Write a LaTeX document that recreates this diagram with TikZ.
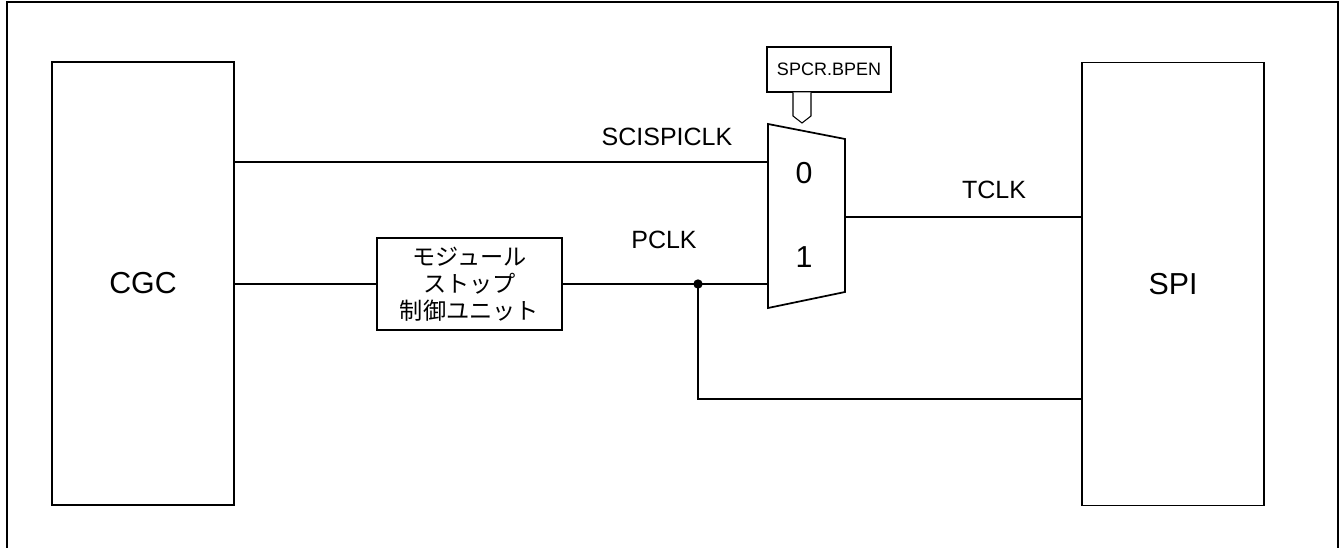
\documentclass[tikz,border=0pt]{standalone}
\usepackage{fontspec}
\setmainfont{Liberation Sans}
\newfontfamily\jpfont{Noto Sans CJK JP}
\begin{document}
\begin{tikzpicture}[x=0.75pt,y=-0.75pt,
  blk/.style={draw,line width=1.3pt,inner sep=0pt},
  wire/.style={line width=0.9pt},
  lbl/.style={anchor=base,inner sep=0pt,font=\fontsize{18.75pt}{22pt}\selectfont},
  big/.style={font=\fontsize{22.75pt}{27pt}\selectfont}]
\useasboundingbox (0,0) rectangle (1341,548);
\draw[line width=1.1pt] (7,548) -- (7,2) -- (1338,2) -- (1338,548);
% blocks
\node[blk,big,minimum width=136.5pt,minimum height=332.25pt] (cgc) at (143,283.5) {CGC};
\node[blk,big,minimum width=136.5pt,minimum height=332.25pt] (spi) at (1173,284) {SPI};
\node[blk,minimum width=138.75pt,minimum height=69pt,align=center,
      font=\jpfont\fontsize{17.4pt}{20.25pt}\selectfont] (msu) at (469.5,284)
      {モジュール\\ストップ\\制御ユニット};
\node[blk,minimum width=93pt,minimum height=33.75pt,font=\fontsize{13.5pt}{16pt}\selectfont] (bpen) at (829,69.5) {SPCR.BPEN};
% multiplexer
\coordinate (m1) at (768,124);
\coordinate (m2) at (845,139);
\coordinate (m3) at (845,292);
\coordinate (m4) at (768,308);
\draw[blk] (m1) -- (m2) -- (m3) -- (m4) -- cycle;
\coordinate (in0) at (768,162);
\coordinate (in1) at (768,284);
\coordinate (out) at (845,217);
\node[big,anchor=base,inner sep=0pt] (l0) at (804,184) {0};
\node[big,anchor=base,inner sep=0pt] (l1) at (804,268) {1};
% select pointer
\coordinate (ptip) at (802,123);
\draw[line width=0.8pt,fill=white] (793,92.5) -- (793,116) -- (ptip) -- (811,116) -- (811,92.5);
% wires
\draw[wire] (cgc.east |- in0) -- (in0);
\draw[wire] (cgc.east |- msu.west) -- (msu.west);
\draw[wire] (msu.east) -- (in1);
\coordinate (jn) at (698,284);
\coordinate (bend) at (698,399);
\draw[wire] (jn) -- (bend) -- (spi.west |- bend);
\fill (jn) circle (3.5pt);
\draw[wire] (out) -- (spi.west |- out);
% labels
\node[lbl] (lsci) at (667,146) {SCISPICLK};
\node[lbl] (lpclk) at (664,249) {PCLK};
\node[lbl] (ltclk) at (994,199) {TCLK};
\end{tikzpicture}
\end{document}
